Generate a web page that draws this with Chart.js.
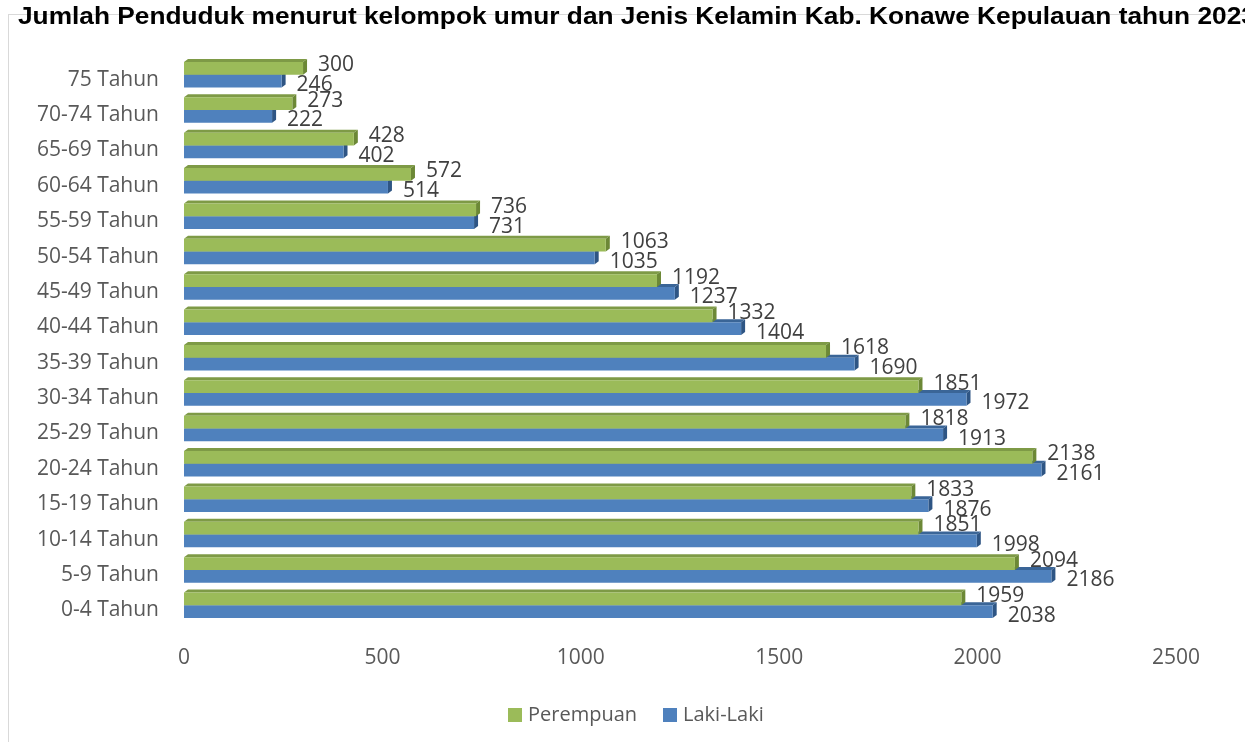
<!DOCTYPE html>
<html>
<head>
<meta charset="utf-8">
<script src="https://cdn.jsdelivr.net/npm/chart.js@4.4.1/dist/chart.umd.min.js"></script>
<style>
  html, body { margin: 0; padding: 0; background: #fff; overflow: hidden; }
  #frame { position: absolute; left: 8px; top: 14px; width: 1400px; height: 800px; border: 1px solid #d9d9d9; }
  #title { position: absolute; left: 18px; top: 2px; white-space: nowrap; transform-origin: left top;
           font-family: "Liberation Sans", Arial, sans-serif;
           font-weight: bold; font-size: 24px; color: #000; }
  #wrap { position: absolute; left: 0; top: 0; width: 1276px; height: 742px; }
  #legend { position: absolute; top: 700px; left: 508px; white-space: nowrap;
            font-family: 'Open Sans', sans-serif; font-size: 20px; color: #595959; line-height: 28px; }
  #legend span.box { display: inline-block; width: 14px; height: 14px; margin-right: 6px; vertical-align: -1px; }
  #legend span.item { margin-right: 26px; }
</style>
</head>
<body>
<div id="frame"></div>
<div id="wrap"><canvas id="chart"></canvas></div>
<div id="title">Jumlah Penduduk menurut kelompok umur dan Jenis Kelamin Kab. Konawe Kepulauan tahun 2023</div>
<div id="legend"></div>
<script>
// kelompok umur, dari atas ke bawah seperti di gambar
const categories = ["75 Tahun", "70-74 Tahun", "65-69 Tahun", "60-64 Tahun", "55-59 Tahun",
  "50-54 Tahun", "45-49 Tahun", "40-44 Tahun", "35-39 Tahun", "30-34 Tahun", "25-29 Tahun",
  "20-24 Tahun", "15-19 Tahun", "10-14 Tahun", "5-9 Tahun", "0-4 Tahun"]
const perempuan = [300, 273, 428, 572, 736, 1063, 1192, 1332, 1618, 1851, 1818, 2138, 1833, 1851, 2094, 1959]
const lakiLaki = [246, 222, 402, 514, 731, 1035, 1237, 1404, 1690, 1972, 1913, 2161, 1876, 1998, 2186, 2038]
const xTicks = [0, 500, 1000, 1500, 2000, 2500]

// judul dipersempit seperti Arial Narrow
var title = document.getElementById("title")
title.style.transform = "scaleX(" + (1238 / title.offsetWidth) + ")"

const GREEN = "#9bbb59"
const BLUE = "#4f81bd"
// warna sisi 3D: [atas, kanan]
const faces = [["#7e9a46", "#6c8836"], ["#3a6597", "#2e5584"]]
const DX = 4, DY = 3
const FONT = "'Open Sans', 'Noto Sans', sans-serif"

const bar3d = {
  id: "bar3d",
  beforeDatasetDraw(chart, args) {
    const ctx = chart.ctx
    const fc = faces[args.index]
    args.meta.data.forEach(function(bar) {
      const p = bar.getProps(["x", "y", "base", "height"], true)
      const t = p.y - p.height / 2, b = p.y + p.height / 2
      ctx.save()
      ctx.fillStyle = fc[0]
      ctx.beginPath()
      ctx.moveTo(p.base, t); ctx.lineTo(p.base + DX, t - DY)
      ctx.lineTo(p.x + DX, t - DY); ctx.lineTo(p.x, t)
      ctx.closePath(); ctx.fill()
      ctx.fillStyle = fc[1]
      ctx.beginPath()
      ctx.moveTo(p.x, t); ctx.lineTo(p.x + DX, t - DY)
      ctx.lineTo(p.x + DX, b - DY); ctx.lineTo(p.x, b)
      ctx.closePath(); ctx.fill()
      ctx.restore()
    })
  },
  afterDatasetsDraw(chart) {
    const ctx = chart.ctx
    ctx.save()
    ctx.font = "21px " + FONT
    ctx.fillStyle = "#404040"
    ctx.textBaseline = "middle"
    ctx.textAlign = "left"
    chart.data.datasets.forEach(function(ds, i) {
      chart.getDatasetMeta(i).data.forEach(function(bar, j) {
        const p = bar.getProps(["x", "y"], true)
        ctx.fillText(ds.data[j], p.x + DX + 11, p.y + (i == 0 ? -3 : 4))
      })
    })
    ctx.restore()
  }
}

const chart = new Chart("chart", {
  type: "bar",
  data: {
    labels: categories,
    datasets: [
      { label: "Perempuan", data: perempuan, backgroundColor: GREEN },
      { label: "Laki-Laki", data: lakiLaki, backgroundColor: BLUE }
    ]
  },
  options: {
    indexAxis: "y",
    responsive: true,
    maintainAspectRatio: false,
    animation: false,
    categoryPercentage: 0.72,
    barPercentage: 1.0,
    layout: { padding: { top: 57, right: 100, left: 0, bottom: 8 } },
    scales: {
      x: {
        min: 0, max: 2500,
        afterBuildTicks: function(s) { s.ticks = xTicks.map(v => ({ value: v })) },
        grid: { display: false, drawTicks: false },
        border: { display: false },
        ticks: { color: "#595959", font: { family: FONT, size: 21 }, padding: 22,
                 callback: function(v) { return String(v) } },
        afterFit: function(s) { s.height = 111 }
      },
      y: {
        grid: { display: false, drawTicks: false },
        border: { display: false },
        ticks: { color: "#595959", font: { family: FONT, size: 21 }, padding: 25, labelOffset: 5 },
        afterFit: function(s) { s.width = 184 }
      }
    },
    plugins: {
      legend: { display: false },
      tooltip: { enabled: false }
    }
  },
  plugins: [bar3d]
})

// legenda
var legend = document.getElementById("legend")
chart.data.datasets.forEach(function(ds) {
  legend.innerHTML += `<span class="item"><span class="box" style="background:${ds.backgroundColor}"></span>${ds.label}</span>`
})
</script>
</body>
</html>
